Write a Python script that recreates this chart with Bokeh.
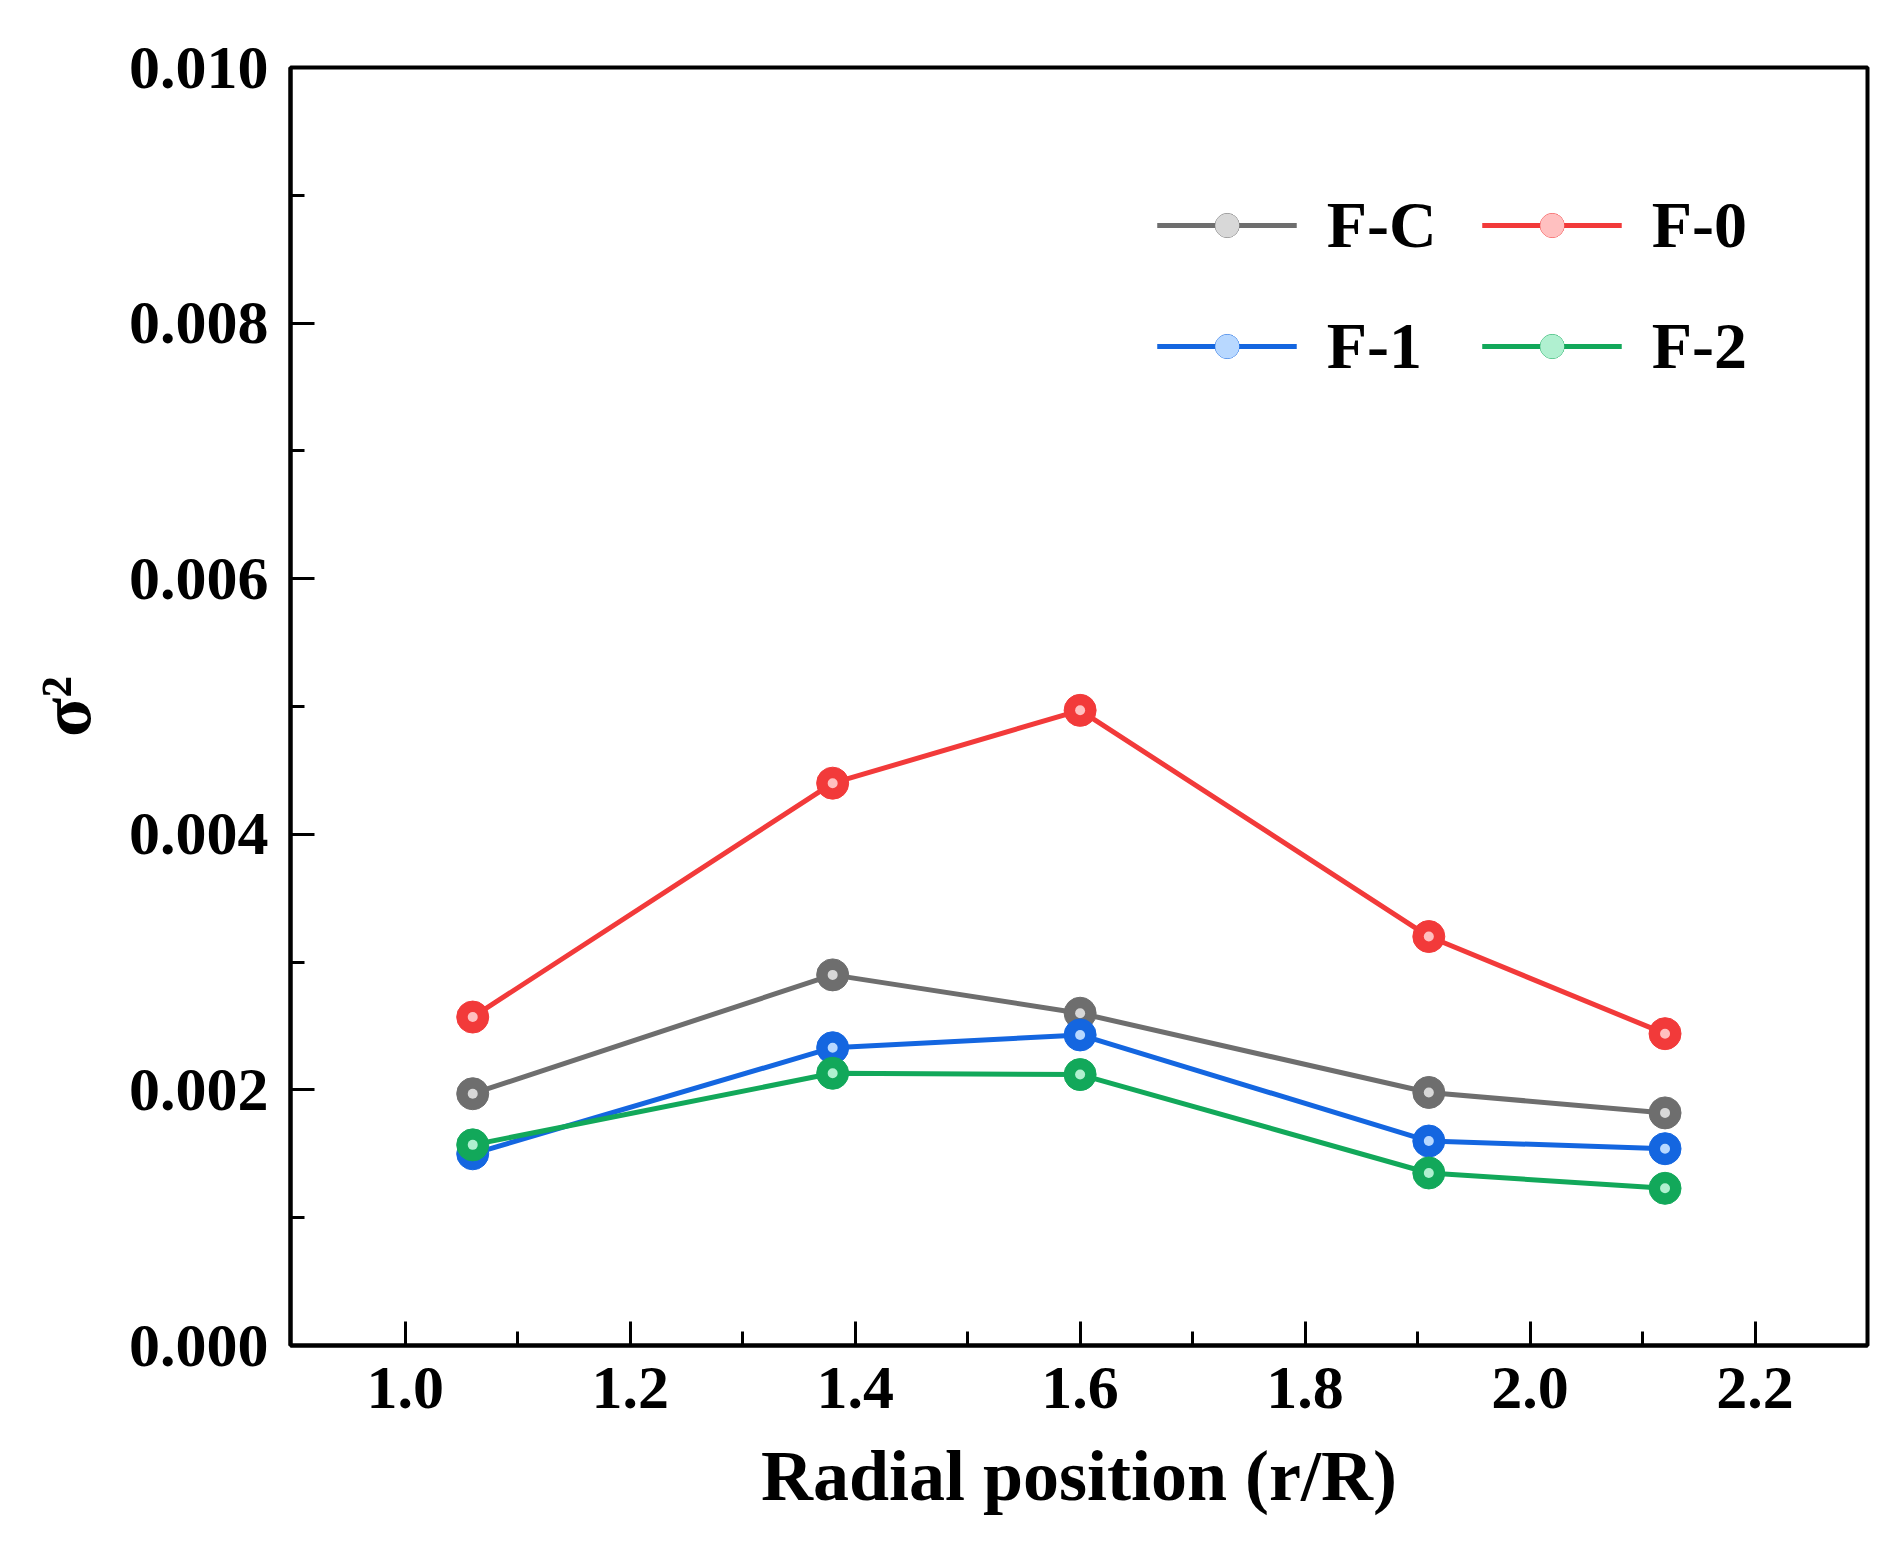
from bokeh.plotting import figure
from bokeh.models import Legend, LegendItem, Range1d, FixedTicker, CustomJSTickFormatter
from bokeh.embed import file_html
from bokeh.resources import INLINE

x = [1.06, 1.38, 1.60, 1.91, 2.12]
fc = [0.00197, 0.00290, 0.00260, 0.00198, 0.00182]
f0 = [0.00257, 0.00440, 0.00497, 0.00320, 0.00244]
f1 = [0.00150, 0.00233, 0.00243, 0.00160, 0.00154]
f2 = [0.00157, 0.00213, 0.00212, 0.00135, 0.00123]
names = ["F-C", "F-0", "F-1", "F-2"]
colors = ["#6e6e6e", "#f23a3a", "#1466e0", "#12a85a"]
light = ["#d8d8d8", "#ffc0c0", "#b8d8ff", "#b0f0d0"]

FONT = "Liberation Serif"
p = figure(width=1875, height=1545, output_backend="svg", toolbar_location=None,
           x_range=Range1d(0.898, 2.3), y_range=Range1d(0, 0.010),
           min_border_left=290, min_border_top=67, min_border_right=8, min_border_bottom=200)
p.grid.visible = False
p.outline_line_color = "black"
p.outline_line_width = 4

items = {}
for n, ys, c, lc in zip(names, [fc, f0, f1, f2], colors, light):
    l = p.line(x, ys, line_color=c, line_width=5)
    s = p.scatter(x, ys, size=32, fill_color=c, line_color=c)
    h = p.scatter(x, ys, size=10, fill_color=lc, line_color=None)
    items[n] = LegendItem(label=n, renderers=[l, s, h])

leg = Legend(items=[items["F-C"], items["F-1"], items["F-0"], items["F-2"]], ncols=2,
             location="top_right", border_line_color=None,
             background_fill_alpha=0, label_text_font=FONT, label_text_font_style="bold",
             label_text_font_size="66px", label_text_color="black",
             glyph_width=140, glyph_height=60, spacing=45, label_standoff=30, padding=0)
leg.margin = 120
p.add_layout(leg)

for ax in [p.xaxis[0], p.yaxis[0]]:
    ax.axis_line_width = 4
    ax.major_tick_line_width = 3
    ax.minor_tick_line_width = 3
    ax.major_tick_in = 24
    ax.major_tick_out = 0
    ax.minor_tick_in = 14
    ax.minor_tick_out = 0
    ax.major_label_text_font = FONT
    ax.major_label_text_font_style = "bold"
    ax.major_label_text_font_size = "62px"
    ax.major_label_text_color = "black"
    ax.axis_label_text_font = FONT
    ax.axis_label_text_font_style = "bold"
    ax.axis_label_text_font_size = "72px"
    ax.axis_label_text_color = "black"
    ax.major_label_standoff = 22

p.xaxis.ticker = FixedTicker(ticks=[1.0, 1.2, 1.4, 1.6, 1.8, 2.0, 2.2],
                             minor_ticks=[1.1, 1.3, 1.5, 1.7, 1.9, 2.1])
p.yaxis.ticker = FixedTicker(ticks=[0, 0.002, 0.004, 0.006, 0.008, 0.010],
                             minor_ticks=[0.001, 0.003, 0.005, 0.007, 0.009])
p.yaxis.formatter = CustomJSTickFormatter(code="return tick.toFixed(3);")
p.xaxis.formatter = CustomJSTickFormatter(code="return tick.toFixed(1);")
p.xaxis.axis_label = "Radial position (r/R)"
p.yaxis.axis_label = "σ²"
p.xaxis.axis_label_standoff = 25
p.yaxis.axis_label_standoff = 20

open("out.html", "w").write(file_html(p, INLINE))
